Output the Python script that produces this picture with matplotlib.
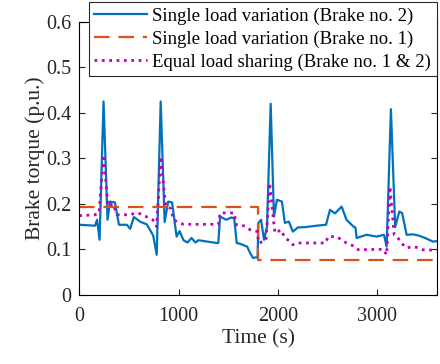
import matplotlib.pyplot as plt

plt.rcParams['font.family'] = ['Liberation Serif', 'DejaVu Serif']

# Single load variation (Brake no. 2)
t_b2 = [0, 160, 180, 205, 245, 285, 310, 360, 400, 480, 513, 550, 620, 680, 730,
        745, 780, 820, 860, 895, 935, 980, 1010, 1050, 1090, 1130, 1170, 1200, 1380,
        1400, 1418, 1480, 1530, 1560, 1585, 1620, 1690, 1720, 1750, 1795,
        1803, 1830, 1860, 1890, 1927, 1960, 1990, 2040, 2070, 2110, 2150, 2200,
        2280, 2390, 2484, 2524, 2574, 2641, 2690, 2760, 2780, 2792, 2892, 2993,
        3067, 3094, 3137, 3180, 3221, 3250, 3295, 3360, 3420, 3480, 3560, 3600]
v_b2 = [0.154, 0.152, 0.165, 0.121, 0.425, 0.165, 0.205, 0.203, 0.154, 0.154, 0.145, 0.171, 0.160, 0.155, 0.136,
        0.130, 0.088, 0.425, 0.160, 0.205, 0.203, 0.128, 0.140, 0.120, 0.115, 0.125, 0.115, 0.120, 0.114,
        0.114, 0.172, 0.165, 0.170, 0.168, 0.114, 0.112, 0.106, 0.092, 0.081, 0.083,
        0.158, 0.165, 0.121, 0.150, 0.420, 0.172, 0.209, 0.205, 0.158, 0.161, 0.139, 0.148,
        0.149, 0.152, 0.154, 0.187, 0.179, 0.194, 0.165, 0.150, 0.148, 0.125, 0.132, 0.128,
        0.132, 0.106, 0.408, 0.149, 0.183, 0.180, 0.132, 0.133, 0.130, 0.125, 0.117, 0.118]

# Single load variation (Brake no. 1)
t_b1 = [0, 1800, 1800, 3600]
v_b1 = [0.194, 0.194, 0.077, 0.077]

# Equal load sharing (Brake no. 1 & 2)
t_eq = [0, 160, 200, 245, 290, 340, 380, 520, 560, 620, 700, 740, 780, 820, 870,
        920, 950, 1000, 1050, 1380, 1400, 1418, 1560, 1580, 1620, 1680, 1720,
        1795, 1805, 1850, 1880, 1917, 1955, 1970, 2000, 2030, 2071, 2120, 2150,
        2200, 2480, 2505, 2590, 2640, 2690, 2775, 2809, 3000, 3060, 3094, 3127,
        3170, 3200, 3240, 3295, 3350, 3400, 3460, 3600]
v_eq = [0.174, 0.176, 0.180, 0.308, 0.195, 0.200, 0.176, 0.176, 0.180, 0.178, 0.169,
        0.165, 0.150, 0.304, 0.195, 0.190, 0.165, 0.159, 0.155, 0.155, 0.155, 0.180, 0.180, 0.154, 0.154, 0.150, 0.143,
        0.139, 0.114, 0.117, 0.120, 0.246, 0.165, 0.136, 0.139, 0.143, 0.125, 0.118, 0.110,
        0.114, 0.114, 0.128, 0.128, 0.121, 0.114, 0.106, 0.099, 0.100, 0.100, 0.088, 0.238,
        0.132, 0.128, 0.114, 0.103, 0.106, 0.104, 0.099, 0.098]

fig, ax = plt.subplots(figsize=(4.4, 3.64), dpi=100)
fig.subplots_adjust(left=0.18, right=0.993, bottom=0.19, top=0.94)

ax.plot(t_b2, v_b2, color='#0072BD', lw=1.6, label='Single load variation (Brake no. 2)')
ax.plot(t_b1, v_b1, color='#D95319', lw=1.6, dashes=(7, 4), label='Single load variation (Brake no. 1)')
ax.plot(t_eq, v_eq, color='#BF00BF', lw=2.0, ls=':', label='Equal load sharing (Brake no. 1 & 2)')

ax.set_xlim(0, 3600)
ax.set_ylim(0, 0.6)
ax.set_xticks([0, 1000, 2000, 3000])
ax.set_yticks([0, 0.1, 0.2, 0.3, 0.4, 0.5, 0.6])
ax.set_yticklabels(['0', '0.1', '0.2', '0.3', '0.4', '0.5', '0.6'])
ax.tick_params(direction='in', top=True, right=True, labelsize=14.5, length=4, colors='#262626')
ax.tick_params(axis='x', pad=9)
ax.tick_params(axis='y', pad=5.5)
ax.set_xlabel('Time (s)', fontsize=15.5, color='#262626', labelpad=2)
ax.set_ylabel('Brake torque (p.u.)', fontsize=15.5, color='#262626', labelpad=1)

leg = ax.legend(loc='upper right', bbox_to_anchor=(1.0, 1.073), fontsize=13.5,
                fancybox=False, framealpha=1, edgecolor='#262626', borderpad=0.3,
                labelspacing=0.3, handlelength=2.8, handletextpad=0.3, borderaxespad=0)
leg.get_frame().set_linewidth(0.8)

plt.savefig('out.png', dpi=100)
